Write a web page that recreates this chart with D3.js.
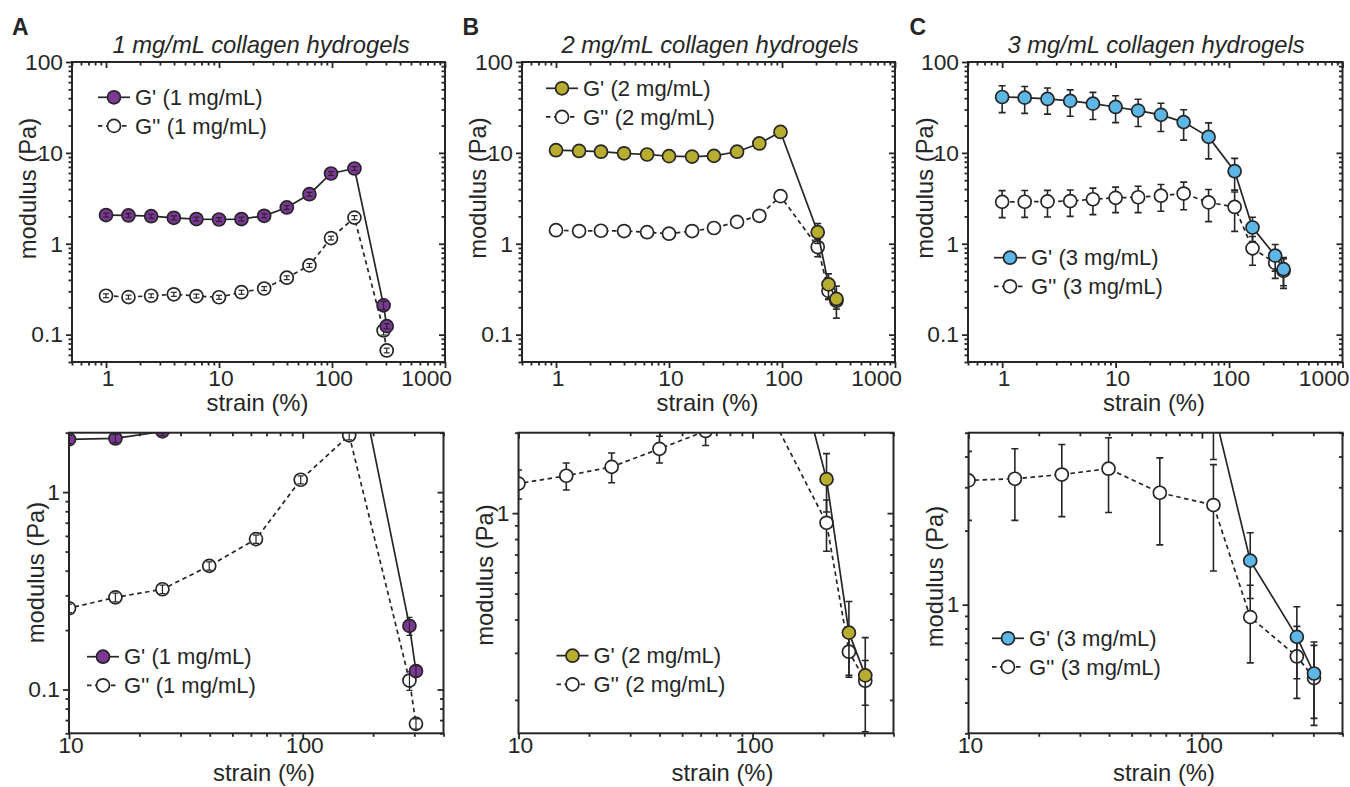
<!DOCTYPE html>
<html><head><meta charset="utf-8">
<script src="https://cdn.jsdelivr.net/npm/d3@7"></script>
<style>
body{margin:0;background:#fff;}
svg text{font-family:"Liberation Sans",Arial,Helvetica,sans-serif;fill:#262626;}
</style></head><body>
<svg id="chart" width="1350" height="787"></svg>
<script>
// ---------------- data ----------------
const panelLetters = ["A", "B", "C"];
const titles = ["1 mg/mL collagen hydrogels", "2 mg/mL collagen hydrogels", "3 mg/mL collagen hydrogels"];
const concLabels = ["1 mg/mL", "2 mg/mL", "3 mg/mL"];
const fillColors = ["#7d3797", "#b9ad30", "#5db7e6"];

const strain1 = [1, 1.58, 2.51, 3.98, 6.31, 10, 15.8, 25.1, 39.8, 63.1, 98, 158, 286, 305];
const gp1     = [2.07, 2.05, 2.01, 1.93, 1.87, 1.85, 1.87, 2.03, 2.51, 3.51, 5.93, 6.73, 0.21, 0.124];
const gp1Err  = [0.1, 0.1, 0.1, 0.1, 0.09, 0.09, 0.09, 0.1, 0.12, 0.17, 0.28, 0.32, 0.022, 0.008];
const gpp1    = [0.268, 0.259, 0.268, 0.278, 0.266, 0.258, 0.293, 0.322, 0.423, 0.578, 1.155, 1.94, 0.111, 0.067];
const gpp1Err = [0.013, 0.013, 0.013, 0.014, 0.013, 0.013, 0.015, 0.016, 0.02, 0.028, 0.055, 0.1, 0.012, 0.004];

const strain2 = [1, 1.6, 2.5, 4, 6.4, 10, 16, 25, 40, 63, 97, 207, 258, 303];
const gp2     = [10.7, 10.5, 10.3, 9.9, 9.6, 9.2, 9.1, 9.27, 10.3, 12.7, 17.0, 1.34, 0.357, 0.247];
const gp2Err  = [0.5, 0.5, 0.5, 0.5, 0.5, 0.5, 0.5, 0.5, 0.5, 0.6, 0.9, 0.33, 0.11, 0.095];
const gpp2    = [1.41, 1.38, 1.39, 1.38, 1.34, 1.29, 1.38, 1.49, 1.74, 2.03, 3.34, 0.92, 0.303, 0.236];
const gpp2Err = [0.15, 0.15, 0.15, 0.15, 0.15, 0.16, 0.16, 0.19, 0.2, 0.24, 0.3, 0.2, 0.06, 0.045];

const strain3 = [1, 1.58, 2.51, 3.98, 6.31, 10, 15.8, 25.1, 39.8, 66, 112, 161, 255, 302];
const gp3     = [41.2, 40.5, 39.2, 37.3, 34.8, 32.0, 29.2, 26.2, 21.8, 15.0, 6.29, 1.51, 0.74, 0.525];
const gp3Err  = [13.5, 13.3, 12.5, 12, 11.5, 10.5, 9.7, 9, 8, 6.4, 2.4, 0.45, 0.24, 0.18];
const gpp3    = [2.89, 2.9, 2.92, 2.95, 3.09, 3.2, 3.25, 3.38, 3.57, 2.85, 2.54, 0.89, 0.616, 0.503];
const gpp3Err = [0.95, 0.95, 0.95, 0.95, 1.0, 1.0, 1.05, 1.1, 1.2, 1.1, 1.17, 0.31, 0.2, 0.18];

const topXTicks = [1, 10, 100, 1000];
const topYTicks = [0.1, 1, 10, 100];
const bottomXTicks = [10, 100];
const bottomYTicks = [[0.1, 1], [1], [1]];
const topXDomain = [0.5, 1000];
const topYDomain = [0.05, 100];
const bottomXDomain = [10, 400];
const bottomYDomains = [[0.06, 2], [0.15, 2], [0.3, 5]];

// ---------------- layout ----------------
const datasets = [
  {strain: strain1, gp: gp1, gpE: gp1Err, gpp: gpp1, gppE: gpp1Err},
  {strain: strain2, gp: gp2, gpE: gp2Err, gpp: gpp2, gppE: gpp2Err},
  {strain: strain3, gp: gp3, gpE: gp3Err, gpp: gpp3, gppE: gpp3Err}
];
const topFrames = [{l: 72, r: 445}, {l: 522, r: 895}, {l: 968, r: 1342.5}];
const botFrames = [{l: 69, r: 443.5}, {l: 518.5, r: 893.5}, {l: 968.5, r: 1342.5}];
const TOP = {t: 62, b: 362};
const BOT = {t: 432.7, b: 733.3};
const topLegend = [{x: 114, y: 97.3}, {x: 562, y: 88.3}, {x: 1010, y: 257.7}];
const botLegend = [{x: 103, y: 656.7}, {x: 572.5, y: 655.7}, {x: 1008, y: 638.3}];
const topYLab = [{x: 28, y: 188.5}, {x: 477.5, y: 188}, {x: 925, y: 188}];
const botYLab = [{x: 36, y: 572.5}, {x: 485, y: 575}, {x: 935, y: 576.5}];
const topXLab = [257.5, 707.5, 1154];
const botXLab = [264, 722.5, 1164];
const titleX = [261, 710, 1156];
const letterX = [12, 462.5, 909.5];

const INK = "#262626";
const svg = d3.select("#chart");
svg.append("rect").attr("width", 1350).attr("height", 787).attr("fill", "#fff");

function minorTicks(dom) {
  const out = [];
  const lo = Math.floor(Math.log10(dom[0])), hi = Math.ceil(Math.log10(dom[1]));
  for (let e = lo; e <= hi; e++) for (let m = 2; m <= 9; m++) {
    const v = m * Math.pow(10, e);
    if (v >= dom[0] * 0.999 && v <= dom[1] * 1.001) out.push(v);
  }
  return out;
}
const fmt = d => (d >= 1 ? d3.format("d")(d) : String(d));

function styleAxis(sel, fs) {
  sel.select(".domain").remove();
  sel.attr("font-family", null).attr("font-size", null);
  sel.selectAll("line").attr("stroke", INK).attr("stroke-width", 1.8);
  sel.selectAll("text").attr("font-size", fs).attr("fill", INK);
}

let clipId = 0;
function drawPanel(i, frame, T, xDom, yDom, xMaj, yMaj, isTop) {
  const d = datasets[i];
  const g = svg.append("g");
  const x = d3.scaleLog().domain(xDom).range([frame.l, frame.r]);
  const y = d3.scaleLog().domain(yDom).range([T.b, T.t]);
  const xMin = minorTicks(xDom), yMin = minorTicks(yDom);
  const fs = 22.8;
  // bottom axis
  const bx = g.append("g").attr("transform", `translate(0,${T.b})`)
    .call(d3.axisBottom(x).tickValues(xMaj).tickSize(6).tickSizeOuter(0).tickPadding(isTop ? 2 : -2.5).tickFormat(fmt));
  styleAxis(bx, fs);
  bx.selectAll("text").attr("dx", 1.5);
  bx.selectAll("text").filter(v => v === 1000).attr("text-anchor", "end").attr("dx", 6.5);
  const bxm = g.append("g").attr("transform", `translate(0,${T.b})`)
    .call(d3.axisBottom(x).tickValues(xMin).tickSize(3.5).tickSizeOuter(0).tickFormat(""));
  styleAxis(bxm, fs);
  // top mirror (inward)
  [[xMaj, 6], [xMin, 3.5]].forEach(([tv, ts]) => {
    const a = g.append("g").attr("transform", `translate(0,${T.t})`)
      .call(d3.axisBottom(x).tickValues(tv).tickSize(ts).tickSizeOuter(0).tickFormat(""));
    styleAxis(a, fs);
  });
  // left axis
  const ly = g.append("g").attr("transform", `translate(${frame.l},0)`)
    .call(d3.axisLeft(y).tickValues(yMaj).tickSize(6).tickSizeOuter(0).tickPadding(3).tickFormat(fmt));
  styleAxis(ly, fs);
  const lym = g.append("g").attr("transform", `translate(${frame.l},0)`)
    .call(d3.axisLeft(y).tickValues(yMin).tickSize(3.5).tickSizeOuter(0).tickFormat(""));
  styleAxis(lym, fs);
  // right mirror (inward)
  [[yMaj, 6], [yMin, 3.5]].forEach(([tv, ts]) => {
    const a = g.append("g").attr("transform", `translate(${frame.r},0)`)
      .call(d3.axisLeft(y).tickValues(tv).tickSize(ts).tickSizeOuter(0).tickFormat(""));
    styleAxis(a, fs);
  });

  // clip
  const cid = "clip" + (clipId++);
  svg.append("clipPath").attr("id", cid).append("rect")
    .attr("x", frame.l).attr("y", T.t).attr("width", frame.r - frame.l).attr("height", T.b - T.t);
  const plot = g.append("g").attr("clip-path", `url(#${cid})`);

  const errOnTop = (i === 0);
  const series = [
    {vals: d.gpp, err: d.gppE, fill: "#fff", dash: "4.5,3.5"},
    {vals: d.gp, err: d.gpE, fill: fillColors[i], dash: null}
  ];
  const line = d3.line().x(p => x(p.s)).y(p => y(p.v));
  series.forEach(s => {
    const pts = d.strain.map((st, k) => ({s: st, v: s.vals[k], e: s.err[k]}));
    plot.append("path").datum(pts).attr("d", line).attr("fill", "none")
      .attr("stroke", INK).attr("stroke-width", 1.7).attr("stroke-dasharray", s.dash);
    const drawErr = () => {
      const eg = plot.append("g").attr("stroke", INK).attr("stroke-width", errOnTop ? 1.2 : 1.6);
      const cw = errOnTop ? 3 : 3.5;
      pts.forEach(p => {
        const lo = Math.max(p.v - p.e, yDom[0] * 0.5), hi = p.v + p.e;
        const cx = x(p.s);
        eg.append("line").attr("x1", cx).attr("x2", cx).attr("y1", y(lo)).attr("y2", y(hi));
        eg.append("line").attr("x1", cx - cw).attr("x2", cx + cw).attr("y1", y(lo)).attr("y2", y(lo));
        eg.append("line").attr("x1", cx - cw).attr("x2", cx + cw).attr("y1", y(hi)).attr("y2", y(hi));
      });
    };
    if (!errOnTop) drawErr();
    plot.append("g").selectAll("circle").data(pts).join("circle")
      .attr("cx", p => x(p.s)).attr("cy", p => y(p.v)).attr("r", 6.5)
      .attr("fill", s.fill).attr("stroke", INK).attr("stroke-width", 1.7);
    if (errOnTop) drawErr();
  });

  // frame
  g.append("rect").attr("x", frame.l).attr("y", T.t).attr("width", frame.r - frame.l).attr("height", T.b - T.t)
    .attr("fill", "none").attr("stroke", INK).attr("stroke-width", 2);

  // labels
  const yl = isTop ? topYLab[i] : botYLab[i];
  g.append("text").attr("transform", `translate(${yl.x},${yl.y}) rotate(-90)`).attr("text-anchor", "middle")
    .attr("dy", "0.35em").attr("font-size", 23.8).text("modulus (Pa)");
  g.append("text").attr("x", isTop ? topXLab[i] : botXLab[i]).attr("y", isTop ? 410.7 : 780.7)
    .attr("text-anchor", "middle").attr("font-size", 23.8).text("strain (%)");

  // legend
  const lg = isTop ? topLegend[i] : botLegend[i];
  const rows = [
    {name: `G' (${concLabels[i]})`, fill: fillColors[i], dash: null, dy: 0},
    {name: `G'' (${concLabels[i]})`, fill: "#fff", dash: "4.5,3.5", dy: 28.6}
  ];
  rows.forEach(r => {
    const cy = lg.y + r.dy;
    g.append("line").attr("x1", lg.x - 16).attr("x2", lg.x + 16).attr("y1", cy).attr("y2", cy)
      .attr("stroke", INK).attr("stroke-width", 1.7).attr("stroke-dasharray", r.dash);
    g.append("circle").attr("cx", lg.x).attr("cy", cy).attr("r", 6.5)
      .attr("fill", r.fill).attr("stroke", INK).attr("stroke-width", 1.7);
    g.append("text").attr("x", lg.x + 21).attr("y", cy).attr("dy", "0.35em")
      .attr("font-size", 22).text(r.name);
  });

  if (isTop) {
    g.append("text").attr("x", titleX[i]).attr("y", 53).attr("text-anchor", "middle")
      .attr("font-size", 23.8).attr("font-style", "italic").text(titles[i]);
    g.append("text").attr("x", letterX[i]).attr("y", 35).attr("font-size", 23)
      .attr("font-weight", "bold").attr("fill", "#111").text(panelLetters[i]);
  }
}

for (let i = 0; i < 3; i++) {
  drawPanel(i, topFrames[i], TOP, topXDomain, topYDomain, topXTicks, topYTicks, true);
  drawPanel(i, botFrames[i], BOT, bottomXDomain, bottomYDomains[i], bottomXTicks, bottomYTicks[i], false);
}
</script>
</body></html>
